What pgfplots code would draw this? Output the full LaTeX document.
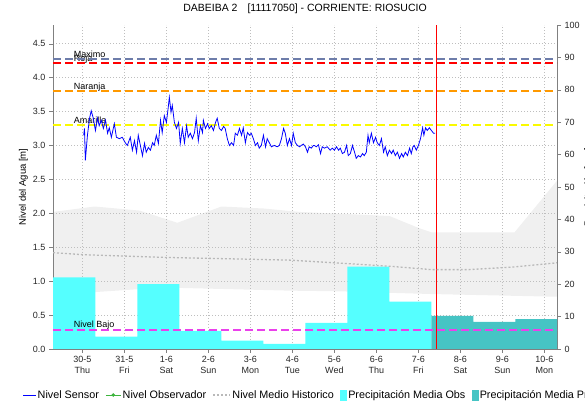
\documentclass[border=0pt]{standalone}
\usepackage{fontspec}
\setmainfont{Liberation Sans}
\usepackage{pgfplots}
\pgfplotsset{compat=1.18}
\usepgfplotslibrary{fillbetween}

\definecolor{sensorc}{RGB}{0,0,255}
\definecolor{maximoc}{RGB}{110,125,170}
\definecolor{rojac}{RGB}{255,0,0}
\definecolor{naranjac}{RGB}{255,153,0}
\definecolor{amarillac}{RGB}{250,250,0}
\definecolor{bajoc}{RGB}{235,64,235}
\definecolor{obsc}{RGB}{85,255,255}
\definecolor{pronc}{RGB}{70,196,196}
\definecolor{histc}{RGB}{185,185,185}
\definecolor{gridc}{RGB}{190,190,190}
\definecolor{axisc}{RGB}{128,128,128}
\definecolor{obsvc}{RGB}{60,180,60}

\pgfplotsset{
  common/.style={scale only axis, width=504pt, height=324pt,
    xmin=-0.7, xmax=11.3, at={(53pt,54pt)}, anchor=south west,
    /pgf/number format/assume math mode=true,
    tick label style={font=\fontsize{9}{11}\selectfont, text=black!85},
    tick style={axisc}, tick align=outside, major tick length=4pt},
  lineimg/.style={legend image code/.code={\draw[##1] (0pt,0pt) -- (#1,0pt);}},
  obsimg/.style={legend image code/.code={\draw[##1] (0pt,0pt) -- (15pt,0pt); \fill[##1] (7.5pt,0pt) circle (1.3pt);}},
  barimg/.style={legend image code/.code={\fill[##1] (0pt,-5pt) rectangle (6pt,5pt);}},
}

\begin{document}
\begin{tikzpicture}
% ---------- axis A: grid, left scale, dates ----------
\begin{axis}[common, ymin=0, ymax=4.775,
  axis x line*=bottom, axis y line*=left, axis line style={-, draw=axisc},
  ytick={0,0.5,...,4.5},
  yticklabel style={/pgf/number format/.cd, fixed, fixed zerofill, precision=1},
  xtick={0,...,11},
  xticklabels={{30-5\\Thu},{31-5\\Fri},{1-6\\Sat},{2-6\\Sun},{3-6\\Mon},{4-6\\Tue},{5-6\\Wed},{6-6\\Thu},{7-6\\Fri},{8-6\\Sat},{9-6\\Sun},{10-6\\Mon}},
  xticklabel style={align=center},
  grid=major, grid style={gridc, dash pattern=on 1pt off 2pt},
  ylabel={Nivel del Agua [m]},
  ylabel style={at={(axis description cs:-0.0585,0.5)}, anchor=center, font=\fontsize{9.5}{11}\selectfont},
  title={DABEIBA 2\hspace{10pt}[11117050] - CORRIENTE: RIOSUCIO},
  title style={at={(0.5,1)}, anchor=base, yshift=7.5pt, font=\fontsize{10.5}{12}\selectfont},
]
\addplot[draw=none, forget plot] coordinates {(0,0)};
\end{axis}

% ---------- axis B: precipitation (right scale) ----------
\begin{axis}[common, ymin=0, ymax=100,
  axis y line*=right, axis x line=none, axis line style={-, draw=axisc},
  ytick={0,10,...,100},
  ylabel={Precipitación [mm]},
  ylabel style={at={(axis description cs:1.0536,0.5)}, anchor=north, inner sep=0pt, font=\fontsize{9.5}{11}\selectfont},
]
\addplot[const plot, fill=obsc, draw=none] coordinates {
 (-0.7,22.1) (0.31,3.8) (1.31,20.0) (2.31,5.6) (3.31,2.6) (4.31,1.6)
 (5.31,8.1) (6.31,25.4) (7.31,14.6) (8.31,14.6)} \closedcycle;
\addplot[const plot, fill=pronc, draw=none] coordinates {
 (8.31,10.2) (9.31,8.4) (10.31,9.2) (11.3,9.2)} \closedcycle;
\end{axis}

% ---------- axis C: levels ----------
\begin{axis}[common, ymin=0, ymax=4.775, axis lines=none,
  legend columns=-1,
  legend cell align=left,
  legend style={at={(axis description cs:-0.0601,-0.142)}, anchor=west,
    draw=none, fill=none, inner sep=0pt,
    font=\fontsize{10.8}{12}\selectfont,
    nodes={inner sep=1.5pt},
    /tikz/every even column/.append style={column sep=5pt}},
]
% historic band
\addplot[name path=up, draw=none, forget plot] coordinates {
 (-0.70,2.02) (0.29,2.10) (1.36,2.04) (2.26,1.86) (3.31,2.10) (4.33,2.07)
 (5.17,2.02) (7.31,1.96) (8.02,1.78) (8.31,1.72) (10.29,1.72) (11.30,2.48)};
\addplot[name path=lo, draw=none, forget plot] coordinates {
 (-0.70,0.67) (0.33,0.84) (1.29,0.88) (2.33,0.90) (4.93,0.86) (6.14,0.85)
 (8.31,0.81) (11.30,0.77)};
\addplot[fill=black, fill opacity=0.06, draw=none, forget plot] fill between[of=up and lo];

% threshold labels
\node[anchor=base west, inner sep=0pt, font=\fontsize{9}{10}\selectfont] at (axis cs:-0.207,4.28) [yshift=1.5pt] {Maximo};
\node[anchor=base west, inner sep=0pt, font=\fontsize{9}{10}\selectfont] at (axis cs:-0.207,4.22) [yshift=1pt] {Roja};
\node[anchor=base west, inner sep=0pt, font=\fontsize{9}{10}\selectfont] at (axis cs:-0.207,3.80) [yshift=2pt] {Naranja};
\node[anchor=base west, inner sep=0pt, font=\fontsize{9}{10}\selectfont] at (axis cs:-0.207,3.30) [yshift=2pt] {Amarilla};
\node[anchor=base west, inner sep=0pt, font=\fontsize{9}{10}\selectfont] at (axis cs:-0.207,0.28) [yshift=2pt] {Nivel Bajo};

% threshold lines
\addplot[maximoc, line width=2pt, dash pattern=on 8pt off 4pt, forget plot] coordinates {(-0.7,4.28) (11.3,4.28)};
\addplot[rojac, line width=2pt, dash pattern=on 8pt off 4pt, forget plot] coordinates {(-0.7,4.22) (11.3,4.22)};
\addplot[naranjac, line width=2pt, dash pattern=on 8pt off 4pt, forget plot] coordinates {(-0.7,3.80) (11.3,3.80)};
\addplot[amarillac, line width=2pt, dash pattern=on 8pt off 4pt, forget plot] coordinates {(-0.7,3.30) (11.3,3.30)};
\addplot[bajoc, line width=2pt, dash pattern=on 8pt off 4pt, forget plot] coordinates {(-0.7,0.28) (11.3,0.28)};

% current time
\addplot[rojac, line width=0.8pt, dash pattern=on 20pt off 0.01pt, forget plot] coordinates {(8.42,0.001) (8.42,1) (8.42,2) (8.42,3) (8.42,4) (8.42,4.77)};

% sensor
\addplot[sensorc, line width=0.8pt, lineimg=12.5pt] coordinates {
(0.03,3.15)(0.05,3.25)(0.07,2.78)(0.12,3.15)(0.17,3.40)(0.21,3.51)(0.26,3.40)(0.31,3.22)(0.36,3.40)(0.40,3.29)(0.45,3.37)(0.50,3.25)(0.55,3.37)(0.60,3.18)(0.64,3.26)(0.69,3.12)(0.76,3.32)(0.81,3.12)(0.88,3.10)(0.95,3.12)(1.02,3.04)(1.07,3.00)(1.14,3.12)(1.19,2.93)(1.24,3.07)(1.29,2.90)(1.33,3.15)(1.38,3.00)(1.43,2.85)(1.48,3.03)(1.52,2.90)(1.57,2.97)(1.62,2.93)(1.67,3.04)(1.71,3.00)(1.76,3.15)(1.81,3.03)(1.86,3.37)(1.90,3.19)(1.95,3.44)(2.00,3.34)(2.04,3.54)(2.07,3.71)(2.11,3.49)(2.14,3.59)(2.19,3.34)(2.24,3.25)(2.29,3.34)(2.33,3.03)(2.38,3.25)(2.43,3.04)(2.48,3.29)(2.52,3.12)(2.57,3.18)(2.62,3.10)(2.67,3.19)(2.71,3.40)(2.76,3.07)(2.81,3.29)(2.86,3.19)(2.88,3.37)(2.93,3.25)(2.98,3.32)(3.02,3.25)(3.07,3.29)(3.12,3.22)(3.17,3.34)(3.21,3.40)(3.26,3.25)(3.31,3.22)(3.36,3.28)(3.40,3.25)(3.45,3.10)(3.50,3.00)(3.55,3.04)(3.60,3.00)(3.64,3.18)(3.69,3.15)(3.74,3.25)(3.79,3.15)(3.83,3.26)(3.88,3.04)(3.93,3.19)(3.98,3.15)(4.02,3.18)(4.07,3.10)(4.12,3.00)(4.17,3.04)(4.21,2.96)(4.26,3.00)(4.31,3.15)(4.36,2.98)(4.40,3.10)(4.45,3.04)(4.50,2.98)(4.57,3.00)(4.64,2.98)(4.69,3.00)(4.74,3.10)(4.79,3.25)(4.83,3.18)(4.88,3.00)(4.93,3.10)(4.98,3.00)(5.02,3.18)(5.07,3.04)(5.12,3.00)(5.17,2.98)(5.21,3.00)(5.26,3.02)(5.31,2.98)(5.36,2.90)(5.40,2.98)(5.45,2.96)(5.50,3.00)(5.52,3.00)(5.57,2.98)(5.62,3.01)(5.67,2.88)(5.71,2.98)(5.76,2.96)(5.83,2.98)(5.90,2.93)(5.95,2.96)(6.00,2.93)(6.05,2.98)(6.10,2.93)(6.14,2.96)(6.19,2.88)(6.24,2.90)(6.29,3.00)(6.33,2.85)(6.38,2.88)(6.43,3.00)(6.48,2.90)(6.52,2.81)(6.57,2.85)(6.62,2.83)(6.67,2.88)(6.71,2.85)(6.76,2.90)(6.80,3.15)(6.83,3.04)(6.88,3.18)(6.93,3.04)(6.98,3.12)(7.02,3.04)(7.07,3.00)(7.12,3.10)(7.17,2.90)(7.21,2.98)(7.26,2.85)(7.31,2.93)(7.36,2.88)(7.40,2.93)(7.45,2.85)(7.50,2.90)(7.55,2.81)(7.60,2.88)(7.64,2.83)(7.69,2.90)(7.74,2.85)(7.79,2.96)(7.83,2.88)(7.87,2.98)(7.90,3.00)(7.95,2.93)(8.00,3.00)(8.05,3.10)(8.10,3.26)(8.13,3.15)(8.17,3.26)(8.21,3.22)(8.26,3.26)(8.31,3.22)(8.36,3.18)(8.40,3.18)};
\addlegendentry{Nivel Sensor}

\addlegendimage{obsvc, line width=0.8pt, obsimg}
\addlegendentry{Nivel Observador}

% historic mean
\addplot[histc, line width=1.3pt, dash pattern=on 2pt off 2pt, lineimg=17pt] coordinates {
 (-0.70,1.42) (0.00,1.39) (1.95,1.35) (4.93,1.31) (7.31,1.22) (8.31,1.17)
 (9.21,1.17) (10.29,1.21) (11.30,1.27)};
\addlegendentry{Nivel Medio Historico}

\addlegendimage{obsc, barimg}
\addlegendentry{Precipitación Media Obs}
\addlegendimage{pronc, barimg}
\addlegendentry{Precipitación Media Pronosticada}
\end{axis}

\pgfresetboundingbox
\useasboundingbox (0pt,0pt) rectangle (585pt,403pt);
\end{tikzpicture}
\end{document}
